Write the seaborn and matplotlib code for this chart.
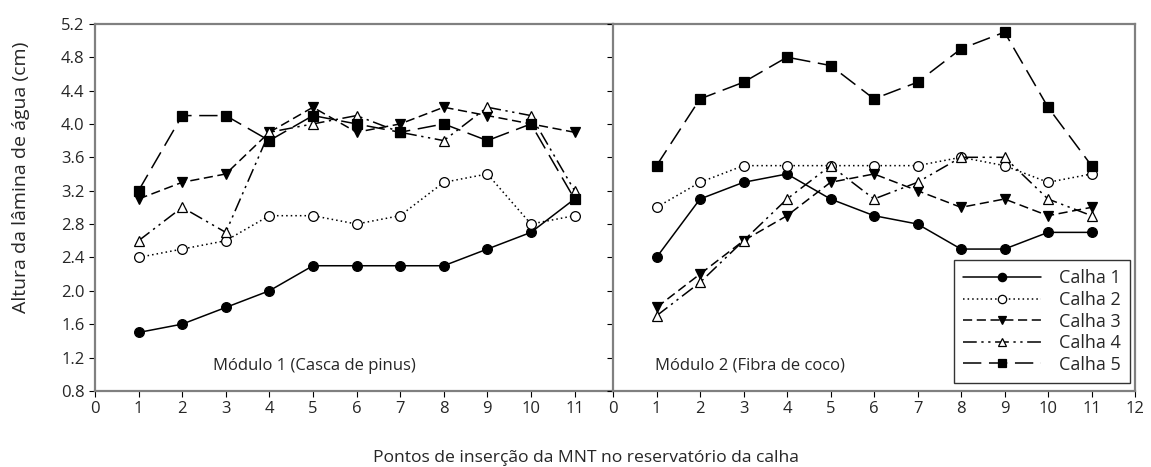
import pandas as pd
import matplotlib.pyplot as plt
import seaborn as sns

# Data
pontos = list(range(1, 12))
calhas = ['Calha 1', 'Calha 2', 'Calha 3', 'Calha 4', 'Calha 5']

# Modulo 1 (Casca de pinus)
mod1_calha1 = [1.5, 1.6, 1.8, 2.0, 2.3, 2.3, 2.3, 2.3, 2.5, 2.7, 3.1]
mod1_calha2 = [2.4, 2.5, 2.6, 2.9, 2.9, 2.8, 2.9, 3.3, 3.4, 2.8, 2.9]
mod1_calha3 = [3.1, 3.3, 3.4, 3.9, 4.2, 3.9, 4.0, 4.2, 4.1, 4.0, 3.9]
mod1_calha4 = [2.6, 3.0, 2.7, 3.9, 4.0, 4.1, 3.9, 3.8, 4.2, 4.1, 3.2]
mod1_calha5 = [3.2, 4.1, 4.1, 3.8, 4.1, 4.0, 3.9, 4.0, 3.8, 4.0, 3.1]

# Modulo 2 (Fibra de coco)
mod2_calha1 = [2.4, 3.1, 3.3, 3.4, 3.1, 2.9, 2.8, 2.5, 2.5, 2.7, 2.7]
mod2_calha2 = [3.0, 3.3, 3.5, 3.5, 3.5, 3.5, 3.5, 3.6, 3.5, 3.3, 3.4]
mod2_calha3 = [1.8, 2.2, 2.6, 2.9, 3.3, 3.4, 3.2, 3.0, 3.1, 2.9, 3.0]
mod2_calha4 = [1.7, 2.1, 2.6, 3.1, 3.5, 3.1, 3.3, 3.6, 3.6, 3.1, 2.9]
mod2_calha5 = [3.5, 4.3, 4.5, 4.8, 4.7, 4.3, 4.5, 4.9, 5.1, 4.2, 3.5]

mod1 = [mod1_calha1, mod1_calha2, mod1_calha3, mod1_calha4, mod1_calha5]
mod2 = [mod2_calha1, mod2_calha2, mod2_calha3, mod2_calha4, mod2_calha5]

# line/marker style per calha
estilos = {
    'Calha 1': dict(ls='-', marker='o', mfc='black'),
    'Calha 2': dict(ls=(0, (1, 2)), marker='o', mfc='white'),
    'Calha 3': dict(ls=(0, (6, 3)), marker='v', mfc='black'),
    'Calha 4': dict(ls=(0, (9, 3, 1.5, 3, 1.5, 3)), marker='^', mfc='white'),
    'Calha 5': dict(ls=(0, (12, 5)), marker='s', mfc='black'),
}

sns.set_style('white')
plt.rcParams['font.family'] = ['Open Sans', 'DejaVu Sans']
plt.rcParams['font.size'] = 12

fig = plt.figure(figsize=(11.51, 4.67), dpi=100)
ax1 = fig.add_axes([0.0825, 0.163, 0.450, 0.786])
ax2 = fig.add_axes([0.5326, 0.163, 0.4535, 0.786])

for ax, modulo in [(ax1, mod1), (ax2, mod2)]:
    for nome, valores in zip(calhas, modulo):
        df = pd.DataFrame({'ponto': pontos, 'altura': valores})
        st = estilos[nome]
        sns.lineplot(data=df, x='ponto', y='altura', ax=ax, color='black',
                     linewidth=1.1, linestyle=st['ls'], marker=st['marker'],
                     markerfacecolor=st['mfc'], markeredgecolor='black',
                     markeredgewidth=0.9, markersize=7, label=nome, legend=False)
    ax.set_ylim(0.8, 5.2)
    ax.set_yticks([0.8 + 0.4 * i for i in range(12)])
    ax.set_xlabel('')
    ax.set_ylabel('')
    for s in ax.spines.values():
        s.set_color('#808080')
        s.set_linewidth(1.6)
    ax.tick_params(axis='both', direction='out', length=4, width=0.8,
                   color='black', labelsize=12, bottom=True, left=True)

ax1.set_xlim(0, 11.88)
ax1.set_xticks(range(0, 12))
ax1.set_yticklabels([f'{v:.1f}' for v in ax1.get_yticks()])
ax1.spines['right'].set_visible(False)
ax1.set_ylabel('Altura da lâmina de água (cm)', fontsize=14)
ax1.yaxis.set_label_coords(-0.126, 0.583)

ax2.set_xlim(0, 12)
ax2.set_xticks(range(0, 13))
ax2.tick_params(axis='y', labelleft=False)

ax1.text(2.7, 1.1, 'Módulo 1 (Casca de pinus)', fontsize=12, va='center')
ax2.text(0.97, 1.1, 'Módulo 2 (Fibra de coco)', fontsize=12, va='center')

handles, labels = ax2.get_legend_handles_labels()
leg = ax2.legend(handles, labels, loc='lower right', bbox_to_anchor=(0.99, 0.022),
                 frameon=True, fancybox=False, edgecolor='black', fontsize=13,
                 handlelength=4.3, handletextpad=1.0, borderaxespad=0,
                 labelspacing=0.2, borderpad=0.5)
leg.get_frame().set_linewidth(1.0)
for h in leg.legend_handles:
    h.set_markersize(6)

fig.text(0.509, 0.02, 'Pontos de inserção da MNT no reservatório da calha',
         ha='center', va='center', fontsize=12.6)

fig.savefig('out.png', dpi=100)
